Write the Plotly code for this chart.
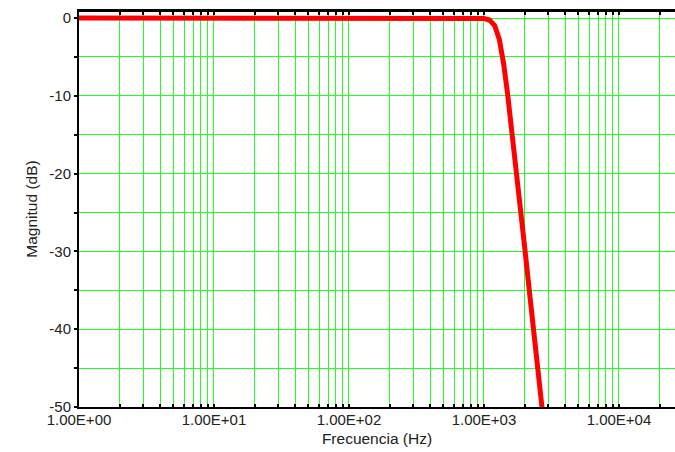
import plotly.graph_objects as go

# Data
freq_hz = [1, 10, 100, 500, 1000, 1100, 1200, 1300, 1400, 1500, 1600, 1800, 2000, 2200, 2500, 2700]
mag_db = [0.0, 0.0, 0.0, 0.0, -0.06, -0.26, -0.96, -2.77, -5.94, -9.93, -14.1, -22.2, -29.4, -36.1, -45.0, -50.3]

x_tick_vals = [1, 10, 100, 1000, 10000]
x_tick_text = ["1.00E+00", "1.00E+01", "1.00E+02", "1.00E+03", "1.00E+04"]
y_tick_vals = [0, -5, -10, -15, -20, -25, -30, -35, -40, -45, -50]
y_tick_text = ["0", "", "-10", "", "-20", "", "-30", "", "-40", "", "-50"]

minor_vals = [m * 10 ** d for d in range(0, 5) for m in range(2, 10)]

grid_col = "#22ff22"
font_fam = "Liberation Sans, Arial, sans-serif"
x_range = [0, 4.415]

fig = go.Figure()
fig.add_trace(go.Scatter(
    x=freq_hz, y=mag_db, mode="lines",
    line=dict(color="#ff0000", width=5),
    showlegend=False,
))
# companion trace on the top axis so its tick marks are drawn
fig.add_trace(go.Scatter(
    x=freq_hz, y=mag_db, xaxis="x2", mode="lines",
    line=dict(color="rgba(0,0,0,0)", width=1), showlegend=False, hoverinfo="skip",
))

fig.update_layout(
    width=675, height=452,
    margin=dict(l=79, r=0, t=11, b=45),
    paper_bgcolor="white", plot_bgcolor="white",
    font=dict(family=font_fam, size=15, color="#222222"),
    xaxis=dict(
        type="log",
        range=x_range,
        tickmode="array", tickvals=x_tick_vals, ticktext=x_tick_text,
        showgrid=True, gridcolor=grid_col, gridwidth=1,
        ticks="inside", ticklen=3, tickwidth=2, tickcolor="black",
        showline=True, linecolor="black", linewidth=2,
        minor=dict(tickvals=minor_vals, showgrid=True, gridcolor=grid_col, gridwidth=1,
                   ticks="inside", ticklen=3, tickwidth=2, tickcolor="black"),
        title=dict(text="Frecuencia (Hz)", font=dict(size=15.5), standoff=6),
        zeroline=False,
        automargin=False,
        tickfont=dict(size=15),
        ticklabelstandoff=-2,
    ),
    xaxis2=dict(
        type="log",
        range=x_range,
        overlaying="x", side="top", anchor="y",
        tickmode="array", tickvals=x_tick_vals, showticklabels=False,
        showgrid=False,
        ticks="inside", ticklen=4, tickwidth=2, tickcolor="black",
        showline=True, linecolor="black", linewidth=2,
        minor=dict(tickvals=minor_vals, showgrid=False,
                   ticks="inside", ticklen=4, tickwidth=2, tickcolor="black"),
        zeroline=False,
        automargin=False,
    ),
    yaxis=dict(
        range=[-50, 0.9],
        tickmode="array", tickvals=y_tick_vals, ticktext=y_tick_text,
        showgrid=True, gridcolor=grid_col, gridwidth=1,
        ticks="outside", ticklen=3, tickwidth=2, tickcolor="black",
        showline=True, linecolor="black", linewidth=2, mirror=False,
        title=dict(text="Magnitud (dB)", font=dict(size=15.5), standoff=8),
        zeroline=False,
        automargin=False,
        tickfont=dict(size=15),
    ),
    shapes=[dict(type="line", xref="paper", yref="paper", x0=0, x1=1, y0=1, y1=1,
                 line=dict(color="black", width=2), layer="above")],
)

fig.write_html(
    "out.html",
    config={"displayModeBar": False},
    post_script="document.body.style.margin='0';document.body.style.overflow='hidden';",
)
